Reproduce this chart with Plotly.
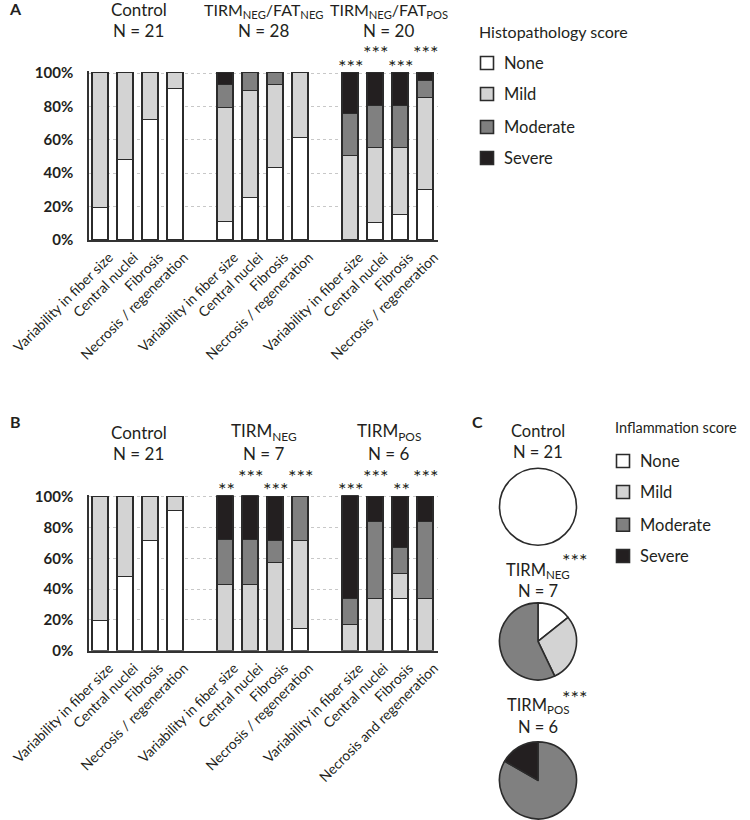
import plotly.graph_objects as go

# ---------------- data ----------------
features_A = ["Variability in fiber size", "Central nuclei", "Fibrosis", "Necrosis / regeneration"]
features_B_last = ["Variability in fiber size", "Central nuclei", "Fibrosis", "Necrosis and regeneration"]
levels = ["None", "Mild", "Moderate", "Severe"]
level_colors = ["#ffffff", "#d3d3d3", "#808080", "#231f20"]

groups_A = ["Control", "TIRM<sub>NEG</sub>/FAT<sub>NEG</sub>", "TIRM<sub>NEG</sub>/FAT<sub>POS</sub>"]
n_A = ["N = 21", "N = 28", "N = 20"]
groups_B = ["Control", "TIRM<sub>NEG</sub>", "TIRM<sub>POS</sub>"]
n_B = ["N = 21", "N = 7", "N = 6"]

# percentages per bar (3 groups x 4 features)
A_none = [19.0, 47.6, 71.4, 90.5, 10.7, 25.0, 42.9, 60.7, 0.0, 10.0, 15.0, 30.0]
A_mild = [81.0, 52.4, 28.6, 9.5, 67.9, 64.3, 50.0, 39.3, 50.0, 45.0, 40.0, 55.0]
A_mod = [0.0, 0.0, 0.0, 0.0, 14.3, 10.7, 7.1, 0.0, 25.0, 25.0, 25.0, 10.0]
A_sev = [0.0, 0.0, 0.0, 0.0, 7.1, 0.0, 0.0, 0.0, 25.0, 20.0, 20.0, 5.0]
A_stars = ["", "", "", "", "", "", "", "", "***", "***", "***", "***"]

B_none = [19.0, 47.6, 71.4, 90.5, 0.0, 0.0, 0.0, 14.3, 0.0, 0.0, 33.3, 0.0]
B_mild = [81.0, 52.4, 28.6, 9.5, 42.9, 42.9, 57.1, 57.1, 16.7, 33.3, 16.7, 33.3]
B_mod = [0.0, 0.0, 0.0, 0.0, 28.6, 28.6, 14.3, 28.6, 16.7, 50.0, 16.7, 50.0]
B_sev = [0.0, 0.0, 0.0, 0.0, 28.6, 28.6, 28.6, 0.0, 66.7, 16.7, 33.3, 16.7]
B_stars = ["", "", "", "", "**", "***", "***", "***", "***", "***", "**", "***"]

pie_groups = ["Control", "TIRM<sub>NEG</sub>", "TIRM<sub>POS</sub>"]
pie_n = ["N = 21", "N = 7", "N = 6"]
pie_stars = ["", "***", "***"]
pie_counts = [[21, 0, 0, 0], [1, 2, 4, 0], [0, 0, 5, 1]]

y_ticks = [0, 20, 40, 60, 80, 100]
y_ticktext = ["0%", "20%", "40%", "60%", "80%", "100%"]

# ---------------- layout helpers ----------------
W, H = 750, 820
FONT = "Lato"
DARK = "#231f20"
def fx(p):
    return p / W
def fy(p):
    return 1 - p / H

fig = go.Figure()

positions = [g * 5 + i for g in range(3) for i in range(4)]
labels_A = features_A * 3
labels_B = features_A * 2 + features_B_last

def add_bars(series, xa, ya):
    for lvl, col, vals in zip(levels, level_colors, series):
        fig.add_trace(go.Bar(
            x=positions, y=[v if v > 0 else None for v in vals],
            name=lvl, marker=dict(color=col, line=dict(color="#2b2b2b", width=1.6)),
            width=0.62, xaxis=xa, yaxis=ya, showlegend=False, hoverinfo="skip"))

add_bars([A_none, A_mild, A_mod, A_sev], "x", "y")
add_bars([B_none, B_mild, B_mod, B_sev], "x2", "y2")

# pies (zero slices dropped so no stray radial lines are drawn)
pie_centers = [506.7, 641.4, 780.4]
pie_cx = 538
R = 38.5
for counts, cy in zip(pie_counts, pie_centers):
    keep = [k for k, c in enumerate(counts) if c > 0]
    fig.add_trace(go.Pie(
        labels=[levels[k] for k in keep], values=[counts[k] for k in keep],
        sort=False, direction="clockwise", rotation=0,
        marker=dict(colors=[level_colors[k] for k in keep],
                    line=dict(color="#2b2b2b", width=1.6)),
        textinfo="none", hoverinfo="skip", showlegend=False,
        domain=dict(x=[fx(pie_cx - R), fx(pie_cx + R)], y=[fy(cy + R), fy(cy - R)])))

# axes
def ydom(p0, p100):
    span = p0 - p100
    top = p0 - span * 101 / 100
    return [fy(p0), fy(top)]

xdom = [fx(89), fx(438)]
axis_common_x = dict(range=[-0.48, 13.48], showline=True, linecolor="#333", linewidth=1.5,
                     tickmode="array", tickvals=positions, tickangle=-45, ticks="",
                     ticklabelshift=8, ticklabelstandoff=2,
                     tickfont=dict(family=FONT, size=14, color=DARK), showgrid=False,
                     zeroline=False, fixedrange=True, automargin=False)
axis_common_y = dict(range=[0, 101], showline=True, linecolor="#333", linewidth=1.5,
                     tickmode="array", tickvals=y_ticks, ticktext=y_ticktext, ticks="",
                     ticklabelstandoff=11,
                     tickfont=dict(family=FONT, size=15, color=DARK, weight="bold"),
                     showgrid=True, gridcolor="#c8c8c8", griddash="dot", gridwidth=1,
                     zeroline=False, fixedrange=True, automargin=False)

fig.update_layout(
    width=W, height=H, margin=dict(l=0, r=0, t=0, b=0, autoexpand=False),
    paper_bgcolor="white", plot_bgcolor="white", barmode="stack", bargap=0,
    xaxis=dict(domain=xdom, anchor="y", ticktext=labels_A, **axis_common_x),
    yaxis=dict(domain=ydom(240, 73), anchor="x", **axis_common_y),
    xaxis2=dict(domain=xdom, anchor="y2", ticktext=labels_B, **axis_common_x),
    yaxis2=dict(domain=ydom(650.8, 496.7), anchor="x2", **axis_common_y),
    font=dict(family=FONT, color=DARK),
)

ann = []
def txt(x, y, s, size=17, xref="paper", xanchor="center", weight="normal"):
    ann.append(dict(x=x, y=fy(y), xref=xref, yref="paper", text=s, showarrow=False,
                    xanchor=xanchor, yanchor="middle", borderpad=0,
                    font=dict(family=FONT, size=size, color=DARK, weight=weight)))

STAR = 20
STAR_DY = 5
# group titles
for g in range(3):
    center = g * 5 + 1.5
    txt(center, 9.5 if g == 0 else 10.5, groups_A[g], size=17 if g == 0 else 16, xref="x")
    txt(center, 30, n_A[g], xref="x")
    txt(center, 432, groups_B[g], xref="x2")
    txt(center, 453, n_B[g], xref="x2")

# significance stars
for i, (p, s) in enumerate(zip(positions, A_stars)):
    if s:
        txt(p, (61 if i % 2 == 0 else 47) + STAR_DY, s, size=STAR, xref="x")
for i, (p, s) in enumerate(zip(positions, B_stars)):
    if s:
        txt(p, (484 if i % 2 == 0 else 471) + STAR_DY, s, size=STAR, xref="x2")

# pie titles
pie_title_y = [(None, 431, 452), (555, 570, 590.5), (691.5, 705.5, 727)]
for (sy, ty, ny), gname, nname, st in zip(pie_title_y, pie_groups, pie_n, pie_stars):
    txt(fx(pie_cx), ty, gname, size=16.5)
    txt(fx(pie_cx), ny, nname, size=16.5)
    if st:
        txt(fx(575), sy + STAR_DY, st, size=STAR)

# panel letters
txt(fx(15), 8, "A", size=16, weight="bold")
txt(fx(15), 421, "B", size=16, weight="bold")
txt(fx(477), 421, "C", size=16, weight="bold")

# legends
shapes = []
def legend(title, tx, ty, tsize, sq_x, text_x, ys):
    txt(fx(tx), ty, title, size=tsize, xanchor="left")
    for lvl, col, yy in zip(levels, level_colors, ys):
        shapes.append(dict(type="rect", xref="paper", yref="paper",
                           x0=fx(sq_x), x1=fx(sq_x + 13), y0=fy(yy + 6.5), y1=fy(yy - 6.5),
                           fillcolor=col, line=dict(color="#2b2b2b", width=1.6)))
        txt(fx(text_x), yy, lvl, size=16.5, xanchor="left")

legend("Histopathology score", 478, 31, 16, 480.5, 503, [63, 94, 127, 158])
legend("Inflammation score", 614, 427.5, 14.5, 616.5, 639, [461, 492, 524.7, 556])

fig.update_layout(annotations=ann, shapes=shapes)
fig.write_html("out.html", config={"displayModeBar": False},
               post_script="document.body.style.margin='0px';")
